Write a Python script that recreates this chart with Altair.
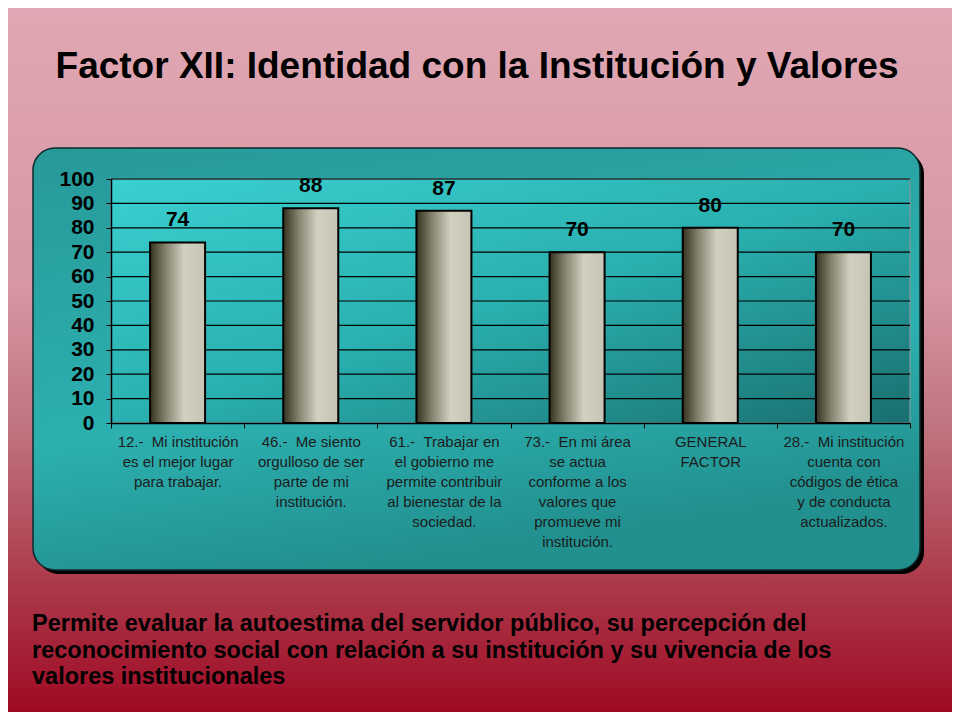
import altair as alt
import pandas as pd

# ---------------- data ----------------
NB = "\u00a0"
categories = [
    f"12.-{NB}{NB}Mi institución|es el mejor lugar|para trabajar.",
    f"46.-{NB}{NB}Me siento|orgulloso de ser|parte de mi|institución.",
    f"61.-{NB}{NB}Trabajar en|el gobierno me|permite contribuir|al bienestar de la|sociedad.",
    f"73.-{NB}{NB}En mi área|se actua|conforme a los|valores que|promueve mi|institución.",
    "GENERAL|FACTOR",
    f"28.-{NB}{NB}Mi institución|cuenta con|códigos de ética|y de conducta|actualizados.",
]
values = [74, 88, 87, 70, 80, 70]
y_ticks = [0, 10, 20, 30, 40, 50, 60, 70, 80, 90, 100]
grid_values = [10, 20, 30, 40, 50, 60, 70, 80, 90, 100]

title_text = "Factor XII: Identidad con la Institución y Valores"
note_lines = [
    "Permite evaluar la autoestima del servidor público, su percepción del",
    "reconocimiento social con relación a su institución y su vivencia de los",
    "valores institucionales",
]

df = pd.DataFrame({"cat": categories, "value": values})
grid_df = pd.DataFrame({"value": grid_values})
one = pd.DataFrame({"k": [0]})
title_df = pd.DataFrame({"t": [title_text]})
note_df = pd.DataFrame({"t": ["\n".join(note_lines)]})

FONT = "Liberation Sans"
W, H = 799, 244

y_scale = alt.Scale(domain=[0, 100], nice=False, zero=True)
y_axis = alt.Axis(
    values=y_ticks, grid=False, title=None, zindex=1,
    labelFont=FONT, labelFontWeight="bold", labelFontSize=21, labelColor="black",
    domainColor="black", domainWidth=1.5, tickColor="black", tickSize=5,
    labelPadding=12,
)
x_scale = alt.Scale(paddingInner=0, paddingOuter=0)
x_axis = alt.Axis(
    title=None, labelAngle=0, tickBand="extent", zindex=1,
    labelExpr="split(datum.label, '|')",
    labelFont=FONT, labelFontSize=15, labelColor="#1c1c1c", labelLineHeight=20,
    labelPadding=6, labelBaseline="top",
    domainColor="black", domainWidth=1.5, tickColor="black", tickSize=5,
)

# ---------------- decorations ----------------
bg_grad = alt.LinearGradient(
    gradient="linear", x1=0, y1=0, x2=0, y2=1,
    stops=[
        alt.GradientStop(offset=0, color="#e0a8b4"),
        alt.GradientStop(offset=0.4, color="#d696a3"),
        alt.GradientStop(offset=0.6, color="#c0737e"),
        alt.GradientStop(offset=0.8, color="#ad3e4e"),
        alt.GradientStop(offset=1, color="#9e0a24"),
    ],
)
panel_grad = alt.LinearGradient(
    gradient="linear", x1=0, y1=0, x2=0.3, y2=1,
    stops=[
        alt.GradientStop(offset=0, color="#279999"),
        alt.GradientStop(offset=0.65, color="#2db0b0"),
        alt.GradientStop(offset=1, color="#21908f"),
    ],
)
plot_grad = alt.LinearGradient(
    gradient="linear", x1=0, y1=0, x2=1, y2=1,
    stops=[
        alt.GradientStop(offset=0, color="#3ad0d0"),
        alt.GradientStop(offset=0.5, color="#2ab0b0"),
        alt.GradientStop(offset=1, color="#1a6e6e"),
    ],
)
bar_grad = alt.LinearGradient(
    gradient="linear", x1=0, y1=0, x2=1, y2=0,
    stops=[
        alt.GradientStop(offset=0, color="#35331f"),
        alt.GradientStop(offset=0.3, color="#8a8874"),
        alt.GradientStop(offset=0.62, color="#d2d0c0"),
        alt.GradientStop(offset=1, color="#c6c4b4"),
    ],
)

background = alt.Chart(one).mark_rect(color=bg_grad).encode(
    x=alt.value(-103), x2=alt.value(841), y=alt.value(-171), y2=alt.value(533)
)
shadow = alt.Chart(one).mark_rect(color="black", cornerRadius=22).encode(
    x=alt.value(-74), x2=alt.value(813), y=alt.value(-27), y2=alt.value(395)
)
panel = alt.Chart(one).mark_rect(
    color=panel_grad, cornerRadius=22, stroke="#0d2a2a", strokeWidth=1.5
).encode(x=alt.value(-78), x2=alt.value(809), y=alt.value(-31), y2=alt.value(391))
plot_bg = alt.Chart(one).mark_rect(
    color=plot_grad, stroke="#6f9a9a", strokeWidth=1.5
).encode(x=alt.value(0), x2=alt.value(W), y=alt.value(0), y2=alt.value(H))

grid = alt.Chart(grid_df).mark_rule(color="black", strokeWidth=1.2).encode(
    y=alt.Y("value:Q", scale=y_scale, axis=y_axis),
    x=alt.value(0), x2=alt.value(W),
)

bars = alt.Chart(df).mark_bar(
    color=bar_grad, stroke="black", strokeWidth=2, size=55
).encode(
    x=alt.X("cat:N", sort=categories, scale=x_scale, axis=x_axis),
    y=alt.Y("value:Q", scale=y_scale, axis=y_axis),
)
labels = alt.Chart(df).mark_text(
    font=FONT, fontWeight="bold", fontSize=21, color="black",
    baseline="alphabetic", dy=-16,
).encode(
    x=alt.X("cat:N", sort=categories, scale=x_scale, axis=x_axis),
    y=alt.Y("value:Q", scale=y_scale, axis=y_axis),
    text=alt.Text("value:Q"),
)

title = alt.Chart(title_df).mark_text(
    font=FONT, fontWeight="bold", fontSize=37, color="black",
    align="center", baseline="alphabetic",
).encode(x=alt.value(366), y=alt.value(-101), text="t:N")

note = alt.Chart(note_df).mark_text(
    font=FONT, fontWeight="bold", fontSize=23.5, color="black",
    align="left", baseline="top", lineBreak="\n", lineHeight=26.5,
).encode(x=alt.value(-79), y=alt.value(433), text="t:N")

chart = alt.layer(
    background, shadow, panel, plot_bg, grid, bars, labels, title, note
).properties(
    width=W, height=H,
    padding={"left": 103, "top": 171, "right": 42, "bottom": 289},
    autosize=alt.AutoSizeParams(type="none"),
).configure_view(stroke=None)

chart.save("out.html", embed_options={"renderer": "svg", "actions": False})
